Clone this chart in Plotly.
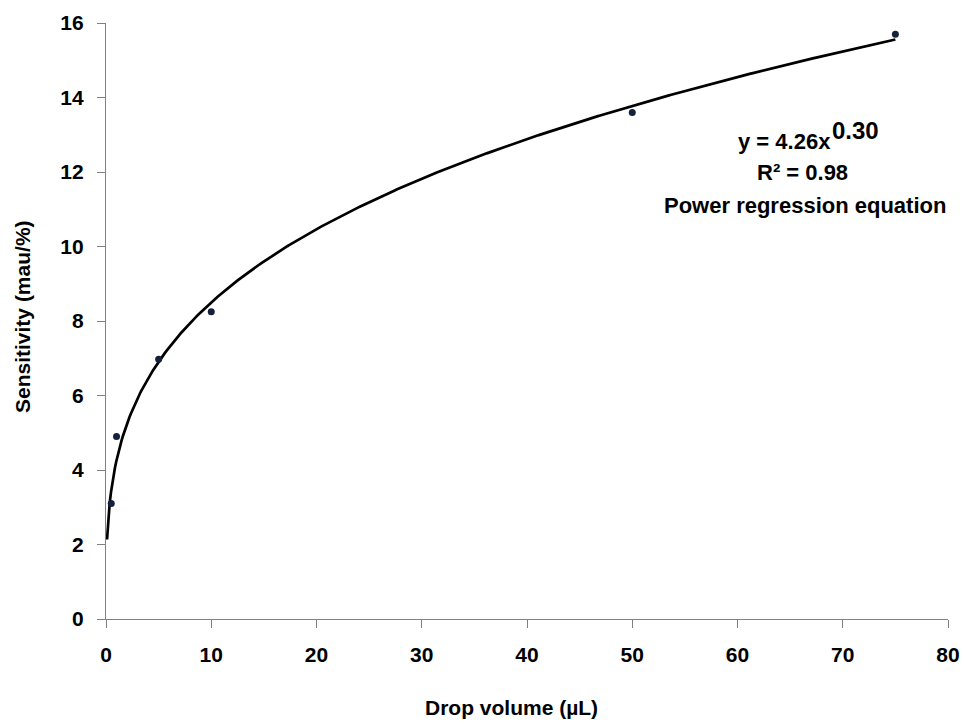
import numpy as np
import plotly.graph_objects as go

drop_volume = [0.5, 1, 5, 10, 50, 75]
sensitivity = [3.1, 4.9, 6.97, 8.25, 13.6, 15.7]
fit_a = 4.26
fit_b = 0.30
x_ticks = [0, 10, 20, 30, 40, 50, 60, 70, 80]
y_ticks = [0, 2, 4, 6, 8, 10, 12, 14, 16]

xf = np.linspace(0.1, 75, 600)
yf = fit_a * xf ** fit_b

font = "Liberation Sans, Arial, sans-serif"
fig = go.Figure()
fig.add_trace(go.Scatter(x=xf, y=yf, mode="lines", line=dict(color="black", width=2.7), showlegend=False))
fig.add_trace(go.Scatter(x=drop_volume, y=sensitivity, mode="markers",
                         marker=dict(color="#15213a", size=7), showlegend=False))

axis_common = dict(showgrid=False, zeroline=False, showline=True, linecolor="#808080", linewidth=1.2,
                   ticks="outside", ticklen=8, tickcolor="#808080", automargin=False,
                   tickfont=dict(family=font, size=21, color="black", weight="bold"))
fig.update_xaxes(range=[0, 80], tickvals=x_ticks, ticklabelstandoff=9, **axis_common)
fig.update_yaxes(range=[0, 16], tickvals=y_ticks, ticklabelstandoff=9, **axis_common)

def px_x(p):
    return (p - 106) / 842

def px_y(p):
    return (619 - p) / 596

bold = dict(family=font, color="black", weight="bold")
fig.add_annotation(xref="paper", yref="paper", x=px_x(511), y=px_y(707), text="Drop volume (µL)",
                   showarrow=False, font=dict(size=21, **bold), xanchor="center", yanchor="middle")
fig.add_annotation(xref="paper", yref="paper", x=px_x(22), y=px_y(317), text="Sensitivity (mau/%)",
                   showarrow=False, textangle=-90, font=dict(size=21, **bold), xanchor="center", yanchor="middle")

fig.add_annotation(xref="paper", yref="paper", x=px_x(833), y=px_y(141), text="y = 4.26x",
                   showarrow=False, font=dict(size=22, **bold), xanchor="right", yanchor="middle")
fig.add_annotation(xref="paper", yref="paper", x=px_x(830), y=px_y(131), text="0.30",
                   showarrow=False, font=dict(size=24, **bold), xanchor="left", yanchor="middle")
fig.add_annotation(xref="paper", yref="paper", x=px_x(802), y=px_y(172), text="R² = 0.98",
                   showarrow=False, font=dict(size=22, **bold), xanchor="center", yanchor="middle")
fig.add_annotation(xref="paper", yref="paper", x=px_x(805), y=px_y(206), text="Power regression equation",
                   showarrow=False, font=dict(size=22, **bold), xanchor="center", yanchor="middle")

fig.update_layout(width=964, height=725, plot_bgcolor="white", paper_bgcolor="white",
                  margin=dict(l=106, r=16, t=23, b=106))
fig.write_html("out.html", config={"displayModeBar": False},
               post_script="document.body.style.margin='0';document.body.style.overflow='hidden';")
